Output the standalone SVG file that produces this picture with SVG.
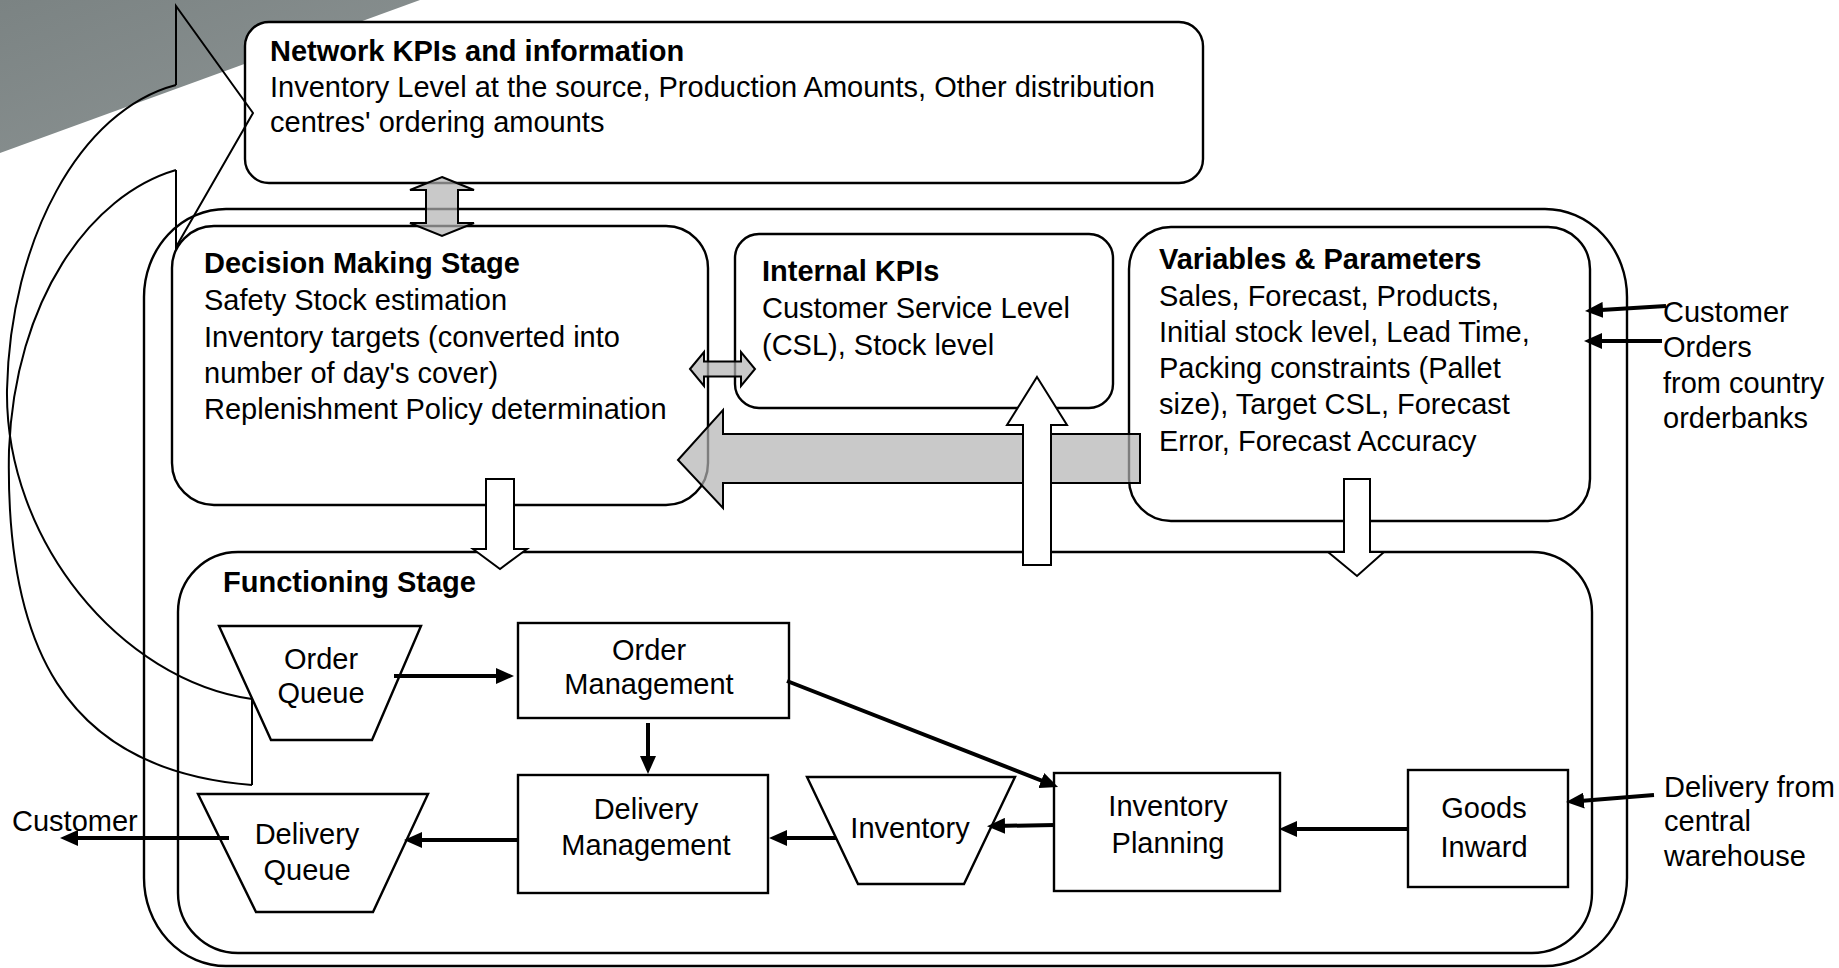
<svg xmlns="http://www.w3.org/2000/svg" width="1839" height="968" viewBox="0 0 1839 968">
<style>
.t{font-family:"Liberation Sans",Arial,sans-serif;font-size:29px;fill:#000}
.b{font-weight:bold}
.c{text-anchor:middle}
.box{fill:none;stroke:#000;stroke-width:2.4}
.wbox{fill:#fff;stroke:#000;stroke-width:2.4}
.conn{fill:none;stroke:#000;stroke-width:4;marker-end:url(#ah)}
.garrow{fill:#b2b2b2;fill-opacity:0.7;stroke:#000;stroke-width:2}
.warrow{fill:#fff;stroke:#000;stroke-width:2}
.curve{fill:none;stroke:#000;stroke-width:2}
</style>
<defs>
<linearGradient id="bg" x1="0" y1="0" x2="1" y2="1">
<stop offset="0" stop-color="#7b8383"/>
<stop offset="1" stop-color="#8e9595"/>
</linearGradient>
<marker id="ah" markerUnits="userSpaceOnUse" markerWidth="18" markerHeight="16" refX="10" refY="8" orient="auto">
<path d="M0,0 L18,8 L0,16 z" fill="#000"/>
</marker>
</defs>
<rect x="0" y="0" width="1839" height="968" fill="#fff"/>
<polygon points="0,0 420,0 0,153" fill="url(#bg)"/>

<g id="outer-container"><rect class="box" x="144" y="209" width="1483" height="757" rx="82" ry="88"/></g>

<g id="network-kpis">
<rect class="wbox" x="245" y="22" width="958" height="161" rx="24"/>
<text class="t b" x="270" y="61">Network KPIs and information</text>
<text class="t" x="270" y="97">Inventory Level at the source, Production Amounts, Other distribution</text>
<text class="t" x="270" y="132">centres' ordering amounts</text>
</g>

<g id="decision-making">
<rect class="box" x="172" y="226" width="536" height="279" rx="42"/>
<text class="t b" x="204" y="273">Decision Making Stage</text>
<text class="t" x="204" y="310">Safety Stock estimation</text>
<text class="t" x="204" y="347">Inventory targets (converted into</text>
<text class="t" x="204" y="383">number of day's cover)</text>
<text class="t" x="204" y="419">Replenishment Policy determination</text>
</g>

<g id="internal-kpis">
<rect class="box" x="735" y="234" width="378" height="174" rx="24"/>
<text class="t b" x="762" y="281">Internal KPIs</text>
<text class="t" x="762" y="318">Customer Service Level</text>
<text class="t" x="762" y="355">(CSL), Stock level</text>
</g>

<g id="variables-parameters">
<rect class="box" x="1129" y="227" width="461" height="294" rx="42"/>
<text class="t b" x="1159" y="269">Variables &amp; Parameters</text>
<text class="t" x="1159" y="306">Sales, Forecast, Products,</text>
<text class="t" x="1159" y="342">Initial stock level, Lead Time,</text>
<text class="t" x="1159" y="378">Packing constraints (Pallet</text>
<text class="t" x="1159" y="414">size), Target CSL, Forecast</text>
<text class="t" x="1159" y="451">Error, Forecast Accuracy</text>
</g>

<g id="functioning-stage">
<rect class="box" x="178" y="552" width="1414" height="401" rx="60"/>
<text class="t b" x="223" y="592">Functioning Stage</text>
</g>

<g id="order-queue">
<polygon class="box" points="219,626 421,626 372,740 271,740"/>
<text class="t c" x="321" y="669">Order</text>
<text class="t c" x="321" y="703">Queue</text>
</g>

<g id="order-management">
<rect class="box" x="518" y="623" width="271" height="95"/>
<text class="t c" x="649" y="660">Order</text>
<text class="t c" x="649" y="694">Management</text>
</g>

<g id="delivery-queue">
<polygon class="box" points="198,794 428,794 373,912 256,912"/>
<text class="t c" x="307" y="844">Delivery</text>
<text class="t c" x="307" y="880">Queue</text>
</g>

<g id="delivery-management">
<rect class="box" x="518" y="775" width="250" height="118"/>
<text class="t c" x="646" y="819">Delivery</text>
<text class="t c" x="646" y="855">Management</text>
</g>

<g id="inventory">
<polygon class="box" points="807,777 1015,777 964,884 858,884"/>
<text class="t c" x="910" y="838">Inventory</text>
</g>

<g id="inventory-planning">
<rect class="box" x="1054" y="773" width="226" height="118"/>
<text class="t c" x="1168" y="816">Inventory</text>
<text class="t c" x="1168" y="853">Planning</text>
</g>

<g id="goods-inward">
<rect class="box" x="1408" y="770" width="160" height="117"/>
<text class="t c" x="1484" y="818">Goods</text>
<text class="t c" x="1484" y="857">Inward</text>
</g>

<g id="labels">
<text class="t" x="1663" y="322">Customer</text>
<text class="t" x="1663" y="357">Orders</text>
<text class="t" x="1663" y="393">from country</text>
<text class="t" x="1663" y="428">orderbanks</text>
<text class="t" x="1664" y="797">Delivery from</text>
<text class="t" x="1664" y="831">central</text>
<text class="t" x="1664" y="866">warehouse</text>
<text class="t" x="12" y="831">Customer</text>
</g>

<g id="connectors">
<path class="conn" d="M394,676 L506,676"/>
<path class="conn" d="M648,723 L648,766"/>
<path class="conn" d="M787,681 L1050.6,784.1"/>
<path class="conn" d="M1408,829 L1287,829"/>
<path class="conn" d="M1055,825 L995,826"/>
<path class="conn" d="M836,838 L777,838"/>
<path class="conn" d="M518,840 L412,840"/>
<path class="conn" d="M229,838 L68,838"/>
<path class="conn" d="M1666,306 L1593,310.5"/>
<path class="conn" d="M1662,341 L1592,341"/>
<path class="conn" d="M1654,795 L1574,801.4"/>
<polygon class="garrow" points="678,460 723,410 723,434 1140,434 1140,483 723,483 723,508"/>
<polygon class="warrow" points="1037,377 1067,425 1051,425 1051,565 1023,565 1023,425 1007,425"/>
<polygon class="warrow" points="486,479 514,479 514,549 527,549 500,569 473,549 486,549"/>
<polygon class="warrow" points="1344,479 1370,479 1370,552 1384,552 1357,576 1328,552 1344,552"/>
<polygon class="garrow" points="442,177 474,190 458,190 458,223 474,223 442,236 410,223 426,223 426,190 410,190"/>
<polygon class="garrow" points="690,369 704,352 704,361.5 741,361.5 741,352 755,369 741,386 741,376.5 704,376.5 704,386"/>
<path class="curve" d="M176,85 L176,6 L253,113 L176,247 L176,170"/>
<path class="curve" d="M176,85 C80,110 10,240 7,390 C5,540 120,680 252,699"/>
<path class="curve" d="M176,170 C90,195 15,300 9,450 C5,640 60,770 252,785"/>
<path class="curve" d="M252,699 L252,785"/>
</g>
</svg>
